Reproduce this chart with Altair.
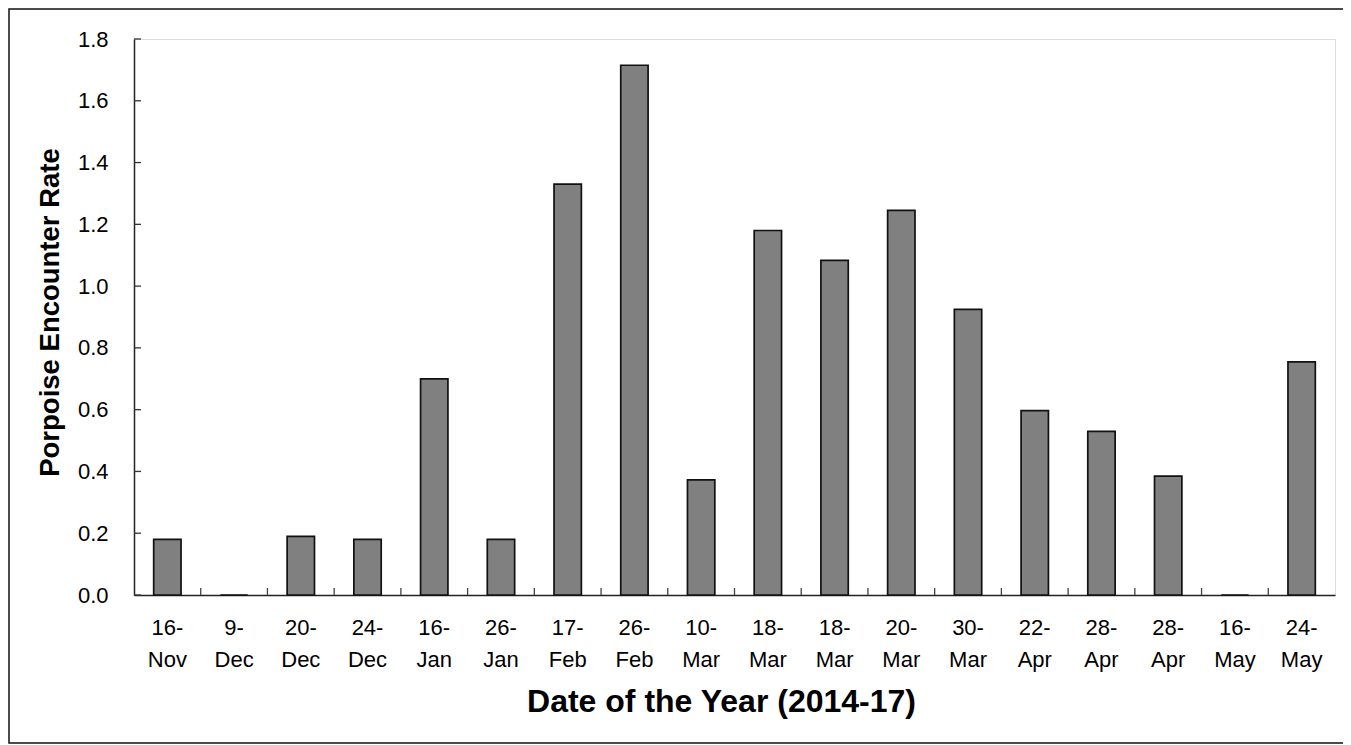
import altair as alt
import pandas as pd

days = ["16", "9", "20", "24", "16", "26", "17", "26", "10", "18", "18", "20", "30", "22", "28", "28", "16", "24"]
months = ["Nov", "Dec", "Dec", "Dec", "Jan", "Jan", "Feb", "Feb", "Mar", "Mar", "Mar", "Mar", "Mar",
          "Apr", "Apr", "Apr", "May", "May"]
rates = [0.18, 0.0, 0.19, 0.18, 0.70, 0.18, 1.33, 1.715, 0.373, 1.18, 1.083, 1.245, 0.925,
         0.597, 0.53, 0.385, 0.0, 0.755]
y_ticks = [0.0, 0.2, 0.4, 0.6, 0.8, 1.0, 1.2, 1.4, 1.6, 1.8]

df = pd.DataFrame({"idx": list(range(len(days))), "rate": rates})
ticks_df = pd.DataFrame({"rate": y_ticks})

W, H = 1201, 556
FONT = "Liberation Sans"

label_arr = "[" + ",".join(f"['{d}-','{m}']" for d, m in zip(days, months)) + "]"

xscale = alt.Scale(paddingInner=0, paddingOuter=0)
yscale = alt.Scale(domain=[0, 1.8], nice=False)

xaxis = alt.Axis(title="Date of the Year (2014-17)", labelExpr=f"{label_arr}[datum.value]",
                 labelAngle=0, ticks=False, labelPadding=22, labelBaseline="top",
                 labelLineHeight=32, labelFontSize=22, labelFont=FONT, labelColor="#000",
                 titleFont=FONT, titleFontSize=32, titleFontWeight="bold", titleColor="#000",
                 titleX=587, titleY=106, titleBaseline="middle",
                 domainColor="#222", domainWidth=1.5)
yaxis = alt.Axis(title="Porpoise Encounter Rate", values=y_ticks, format=".1f",
                 grid=False, ticks=False, labelPadding=26, labelFontSize=22,
                 labelFont=FONT, labelColor="#000",
                 titleFont=FONT, titleFontSize=27.5, titleFontWeight="bold", titleColor="#000",
                 titleX=-84, titleY=273, titleBaseline="middle", titleAlign="center",
                 domainColor="#222", domainWidth=1.5)

bars = alt.Chart(df).mark_bar(
    width={"band": 0.41}, color="#808080", stroke="#111111", strokeWidth=1.7
).encode(
    x=alt.X("idx:O", scale=xscale, sort="ascending", axis=xaxis),
    y=alt.Y("rate:Q", scale=yscale, axis=yaxis),
)

xticks = alt.Chart(df).transform_filter("datum.idx > 0").mark_rule(
    color="#444", strokeWidth=1.3
).encode(
    x=alt.X("idx:O", scale=xscale, sort="ascending", bandPosition=0, axis=xaxis),
    y=alt.value(H),
    y2=alt.value(H - 7),
)

yticks = alt.Chart(ticks_df).mark_rule(color="#333", strokeWidth=1.3).encode(
    y=alt.Y("rate:Q", scale=yscale, axis=yaxis),
    x=alt.value(0),
    x2=alt.value(7),
)

border = alt.Chart(alt.Data(values=[{"a": 1}])).mark_rect(
    filled=False, stroke="#111", strokeWidth=1.5
).encode(
    x=alt.value(-125),
    x2=alt.value(1212.5),
    y=alt.value(-30),
    y2=alt.value(704),
)

chart = alt.layer(bars, xticks, yticks, border).properties(
    width=W, height=H,
    autosize=alt.AutoSizeParams(type="none"),
    padding={"left": 126, "top": 31, "right": 8, "bottom": 150},
).configure_view(
    stroke="#a0a0a0", strokeWidth=1.5
).configure(background="white")

chart.save("out.html", embed_options={"renderer": "svg", "actions": False})
